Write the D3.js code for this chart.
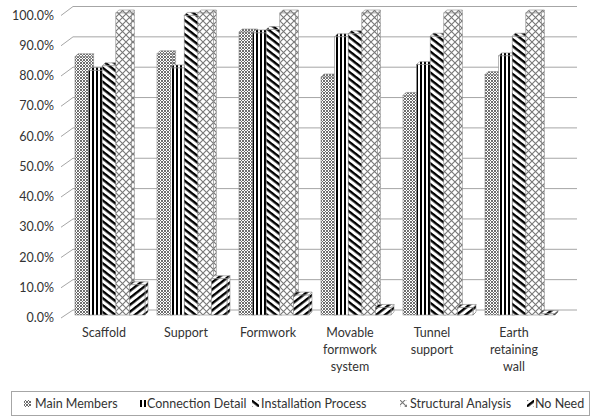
<!DOCTYPE html>
<html>
<head>
<meta charset="utf-8">
<script src="https://cdn.jsdelivr.net/npm/d3@7/dist/d3.min.js"></script>
<style>
  html, body { margin: 0; padding: 0; background: #fff; }
  svg { display: block; }
  text { font-family: Lato, "Open Sans", sans-serif; fill: #333; }
</style>
</head>
<body>
<svg id="chart" width="594" height="418"></svg>
<script>
// Chart data
const categories = [
  ["Scaffold"],
  ["Support"],
  ["Formwork"],
  ["Movable", "formwork", "system"],
  ["Tunnel", "support"],
  ["Earth", "retaining", "wall"]
];
const seriesNames = ["Main Members", "Connection Detail", "Installation Process", "Structural Analysis", "No Need"];
const mainMembers        = [85.5, 86.5, 93.7, 78.8, 72.7, 79.6];
const connectionDetail   = [81.0, 81.8, 93.4, 92.1, 82.9, 85.8];
const installationProc   = [82.5, 99.2, 94.5, 93.1, 92.3, 92.3];
const structuralAnalysis = [100, 100, 100, 100, 100, 100];
const noNeed             = [10.0, 12.0, 6.6, 2.5, 2.5, 0.5];
const tickValues = [0, 10, 20, 30, 40, 50, 60, 70, 80, 90, 100];

const seriesValues = [mainMembers, connectionDetail, installationProc, structuralAnalysis, noNeed];
const seriesKeys = ["mm", "cd", "ip", "sa", "nn"];

const svg = d3.select("#chart");
const defs = svg.append("defs");

// Fill patterns for each series
function pat(id, w, h, transform) {
  const p = defs.append("pattern").attr("id", id)
    .attr("patternUnits", "userSpaceOnUse").attr("width", w).attr("height", h);
  if (transform) p.attr("patternTransform", transform);
  p.append("rect").attr("width", w).attr("height", h).attr("fill", "#fff");
  return p;
}
// small weave
let p = pat("mm", 3, 3);
p.append("path").attr("d", "M0,0L3,3M3,0L0,3").attr("stroke", "#666").attr("stroke-width", 0.95);
// wide vertical
p = pat("cd", 4, 4);
p.append("rect").attr("width", 2).attr("height", 4).attr("fill", "#000");
// wide downward diagonal
p = pat("ip", 5.5, 5.5, "rotate(38)");
p.append("rect").attr("width", 5.5).attr("height", 2.4).attr("fill", "#000");
// outlined diamond lattice
p = pat("sa", 7, 7);
p.append("path").attr("d", "M0,0L7,7M7,0L0,7").attr("stroke", "#777").attr("stroke-width", 1.1);
// wide upward diagonal
p = pat("nn", 5.5, 5.5, "rotate(-38)");
p.append("rect").attr("width", 5.5).attr("height", 2.4).attr("fill", "#000");

// Scales: back wall, front edge and bar plane
const yBack = d3.scaleLinear().domain([0, 100]).range([310, 6.5]);
const yFront = d3.scaleLinear().domain([0, 100]).range([318, 15.5]);
const yBar = d3.scaleLinear().domain([0, 100]).range([315, 13]);
const x0 = d3.scaleBand().domain(d3.range(categories.length)).range([63, 555]);
const x1 = d3.scaleBand().domain(seriesKeys).range([12, 80]);
const wallLeft = 73, wallRight = 577, frontLeft = 61;

// Back wall gridlines and left wall ticks
const grid = svg.append("g");
grid.selectAll("line.h").data(tickValues).join("line")
  .attr("x1", wallLeft).attr("x2", wallRight)
  .attr("y1", d => yBack(d)).attr("y2", d => yBack(d))
  .attr("stroke", "#a6a6a6").attr("stroke-width", 1);
grid.selectAll("line.s").data(tickValues).join("line")
  .attr("x1", frontLeft).attr("x2", wallLeft)
  .attr("y1", d => yFront(d)).attr("y2", d => yBack(d))
  .attr("stroke", "#a6a6a6").attr("stroke-width", 1);

// Value axis labels
svg.append("g").selectAll("text").data(tickValues).join("text")
  .attr("x", 54).attr("y", d => yFront(d) + 4)
  .attr("text-anchor", "end").attr("font-size", 12.5)
  .text(d => d3.format(".1f")(d) + "%");

// Bars with a small 3D top and side
const depth = 3;
const bw = x1.bandwidth() + 2;
const bars = svg.append("g");
categories.forEach((c, ci) => {
  seriesKeys.forEach((k, si) => {
    const v = seriesValues[si][ci];
    const x = x0(ci) + x1(k);
    const yt = yBar(v), yb = yBar(0);
    const g = bars.append("g");
    g.append("path")
      .attr("d", `M${x + bw},${yt}L${x + bw + depth},${yt - depth}L${x + bw + depth},${yb - depth}L${x + bw},${yb}Z`)
      .attr("fill", `url(#${k})`).attr("stroke", "#8a8a8a").attr("stroke-width", 0.6);
    g.append("path")
      .attr("d", `M${x},${yt}L${x + depth},${yt - depth}L${x + bw + depth},${yt - depth}L${x + bw},${yt}Z`)
      .attr("fill", `url(#${k})`).attr("stroke", "#8a8a8a").attr("stroke-width", 0.6);
    g.append("rect")
      .attr("x", x).attr("y", yt).attr("width", bw).attr("height", yb - yt)
      .attr("fill", `url(#${k})`).attr("stroke", "#8a8a8a").attr("stroke-width", 0.6);
  });
});

// Category labels
const catG = svg.append("g");
categories.forEach((lines, ci) => {
  const t = catG.append("text")
    .attr("x", x0(ci) + x0.bandwidth() / 2)
    .attr("y", 337).attr("text-anchor", "middle").attr("font-size", 12.5);
  lines.forEach((ln, li) => {
    t.append("tspan").attr("x", x0(ci) + x0.bandwidth() / 2)
      .attr("dy", li === 0 ? 0 : 17).text(ln);
  });
});

// Legend
const legend = svg.append("g");
legend.append("rect").attr("x", 11.5).attr("y", 391.5).attr("width", 578).attr("height", 24)
  .attr("fill", "#fff").attr("stroke", "#a6a6a6").attr("stroke-width", 1);
const legendIconX = [24, 139, 252, 400, 527];
const legendTextX = [35, 147, 261, 410, 535];
seriesNames.forEach((name, i) => {
  legend.append("rect").attr("x", legendIconX[i]).attr("y", 400).attr("width", 7).attr("height", 7)
    .attr("fill", `url(#${seriesKeys[i]})`);
  legend.append("text").attr("x", legendTextX[i]).attr("y", 408).attr("font-size", 12.5).text(name);
});
</script>
</body>
</html>
